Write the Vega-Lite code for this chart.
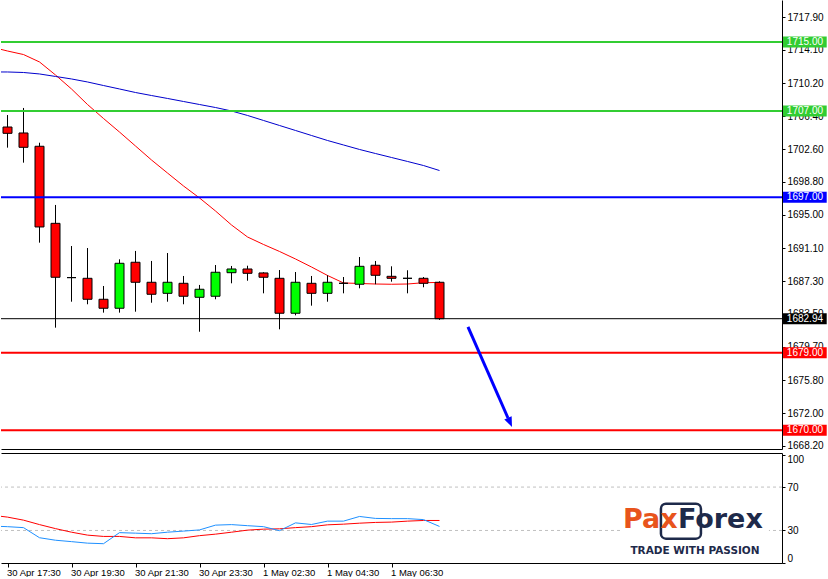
{
  "$schema": "https://vega.github.io/schema/vega-lite/v6.json",
  "padding": 0,
  "background": "white",
  "spacing": 2,
  "config": {
    "view": {"stroke": null},
    "axis": {"labelFont": "Liberation Sans", "labelFontSize": 10, "labelColor": "black", "domainColor": "black", "tickColor": "black", "grid": false, "labelOverlap": false}
  },
  "datasets": {
    "candles": [
      {"i": 0, "o": 1705.15, "h": 1706.54, "l": 1702.76, "c": 1704.42},
      {"i": 1, "o": 1704.46, "h": 1707.36, "l": 1701.02, "c": 1702.80},
      {"i": 2, "o": 1702.92, "h": 1703.33, "l": 1691.75, "c": 1693.57},
      {"i": 3, "o": 1693.99, "h": 1696.12, "l": 1681.90, "c": 1687.74},
      {"i": 4, "o": 1687.70, "h": 1691.36, "l": 1684.91, "c": 1687.70},
      {"i": 5, "o": 1687.62, "h": 1691.13, "l": 1684.61, "c": 1685.19},
      {"i": 6, "o": 1685.19, "h": 1686.73, "l": 1683.64, "c": 1684.15},
      {"i": 7, "o": 1684.15, "h": 1689.82, "l": 1683.64, "c": 1689.36},
      {"i": 8, "o": 1689.48, "h": 1690.79, "l": 1683.75, "c": 1687.16},
      {"i": 9, "o": 1687.16, "h": 1689.63, "l": 1684.79, "c": 1685.77},
      {"i": 10, "o": 1685.88, "h": 1690.55, "l": 1684.91, "c": 1687.16},
      {"i": 11, "o": 1687.04, "h": 1687.89, "l": 1684.61, "c": 1685.54},
      {"i": 12, "o": 1685.42, "h": 1686.85, "l": 1681.43, "c": 1686.35},
      {"i": 13, "o": 1685.54, "h": 1689.16, "l": 1685.19, "c": 1688.32},
      {"i": 14, "o": 1688.27, "h": 1689.05, "l": 1687.04, "c": 1688.70},
      {"i": 15, "o": 1688.70, "h": 1689.08, "l": 1687.34, "c": 1688.20},
      {"i": 16, "o": 1688.24, "h": 1688.32, "l": 1685.88, "c": 1687.74},
      {"i": 17, "o": 1687.62, "h": 1688.58, "l": 1681.71, "c": 1683.57},
      {"i": 18, "o": 1683.57, "h": 1688.35, "l": 1683.33, "c": 1687.16},
      {"i": 19, "o": 1687.04, "h": 1687.89, "l": 1684.45, "c": 1685.88},
      {"i": 20, "o": 1685.88, "h": 1687.97, "l": 1684.91, "c": 1687.16},
      {"i": 21, "o": 1687.04, "h": 1687.77, "l": 1685.88, "c": 1687.04},
      {"i": 22, "o": 1686.93, "h": 1690.09, "l": 1686.46, "c": 1689.01},
      {"i": 23, "o": 1689.13, "h": 1689.63, "l": 1686.93, "c": 1687.97},
      {"i": 24, "o": 1687.85, "h": 1689.01, "l": 1687.23, "c": 1687.62},
      {"i": 25, "o": 1687.62, "h": 1688.55, "l": 1685.88, "c": 1687.62},
      {"i": 26, "o": 1687.62, "h": 1687.77, "l": 1686.58, "c": 1687.04},
      {"i": 27, "o": 1687.16, "h": 1687.27, "l": 1682.80, "c": 1682.94}
    ],
    "ma": [
      {"i": -1, "fast": 1714.42, "slow": 1711.53},
      {"i": 0, "fast": 1713.96, "slow": 1711.53},
      {"i": 1, "fast": 1713.55, "slow": 1711.47},
      {"i": 2, "fast": 1712.69, "slow": 1711.30},
      {"i": 3, "fast": 1711.18, "slow": 1711.01},
      {"i": 4, "fast": 1709.56, "slow": 1710.72},
      {"i": 5, "fast": 1707.76, "slow": 1710.37},
      {"i": 6, "fast": 1706.14, "slow": 1709.96},
      {"i": 7, "fast": 1704.57, "slow": 1709.56},
      {"i": 8, "fast": 1702.95, "slow": 1709.15},
      {"i": 9, "fast": 1701.33, "slow": 1708.80},
      {"i": 10, "fast": 1699.82, "slow": 1708.46},
      {"i": 11, "fast": 1698.32, "slow": 1708.11},
      {"i": 12, "fast": 1696.93, "slow": 1707.76},
      {"i": 13, "fast": 1695.42, "slow": 1707.41},
      {"i": 14, "fast": 1693.80, "slow": 1707.01},
      {"i": 15, "fast": 1692.41, "slow": 1706.49},
      {"i": 16, "fast": 1691.54, "slow": 1705.91},
      {"i": 17, "fast": 1690.73, "slow": 1705.33},
      {"i": 18, "fast": 1689.86, "slow": 1704.75},
      {"i": 19, "fast": 1688.93, "slow": 1704.17},
      {"i": 20, "fast": 1687.95, "slow": 1703.59},
      {"i": 21, "fast": 1687.08, "slow": 1703.07},
      {"i": 22, "fast": 1687.02, "slow": 1702.55},
      {"i": 23, "fast": 1686.96, "slow": 1702.08},
      {"i": 24, "fast": 1686.93, "slow": 1701.62},
      {"i": 25, "fast": 1686.96, "slow": 1701.16},
      {"i": 26, "fast": 1687.11, "slow": 1700.69},
      {"i": 27, "fast": 1687.14, "slow": 1700.11}
    ],
    "levels": [
      {"price": 1715.00, "kind": "resistance"},
      {"price": 1707.00, "kind": "resistance"},
      {"price": 1697.00, "kind": "pivot"},
      {"price": 1682.94, "kind": "current"},
      {"price": 1679.00, "kind": "support"},
      {"price": 1670.00, "kind": "support"}
    ],
    "arrow": [
      {"i": 28.78, "p": 1681.98},
      {"i": 31.28, "p": 1671.43}
    ],
    "arrowhead": [
      {"i": 31.53, "p": 1670.39}
    ],
    "osc": [
      {"i": -1, "blue": 34.0, "red": 44.1},
      {"i": 0, "blue": 33.5, "red": 42.3},
      {"i": 1, "blue": 32.6, "red": 39.5},
      {"i": 2, "blue": 23.3, "red": 35.4},
      {"i": 3, "blue": 21.0, "red": 31.7},
      {"i": 4, "blue": 19.7, "red": 28.4},
      {"i": 5, "blue": 18.3, "red": 25.7},
      {"i": 6, "blue": 17.8, "red": 24.5},
      {"i": 7, "blue": 28.0, "red": 24.5},
      {"i": 8, "blue": 27.5, "red": 23.2},
      {"i": 9, "blue": 27.0, "red": 23.2},
      {"i": 10, "blue": 28.4, "red": 22.4},
      {"i": 11, "blue": 29.4, "red": 23.2},
      {"i": 12, "blue": 30.5, "red": 25.2},
      {"i": 13, "blue": 34.9, "red": 26.6},
      {"i": 14, "blue": 35.4, "red": 28.4},
      {"i": 15, "blue": 34.4, "red": 30.3},
      {"i": 16, "blue": 33.5, "red": 31.2},
      {"i": 17, "blue": 29.8, "red": 31.5},
      {"i": 18, "blue": 37.0, "red": 32.6},
      {"i": 19, "blue": 35.5, "red": 33.5},
      {"i": 20, "blue": 38.6, "red": 35.2},
      {"i": 21, "blue": 38.6, "red": 35.8},
      {"i": 22, "blue": 42.9, "red": 36.7},
      {"i": 23, "blue": 41.1, "red": 37.4},
      {"i": 24, "blue": 40.9, "red": 37.7},
      {"i": 25, "blue": 40.9, "red": 38.6},
      {"i": 26, "blue": 40.0, "red": 39.2},
      {"i": 27, "blue": 33.7, "red": 39.2}
    ],
    "osclevels": [{"v": 70}, {"v": 30}],
    "one": [{"n": 1}]
  },
  "vconcat": [
    {
      "width": 781,
      "height": 449,
      "resolve": {"axis": {"x": "independent", "y": "independent"}},
      "layer": [
        {
          "data": {"name": "ma"},
          "mark": {"type": "line", "color": "#FF0000", "strokeWidth": 1, "clip": true},
          "encoding": {
            "x": {"field": "i", "type": "quantitative", "scale": {"domain": [-0.40625, 48.40625], "nice": false, "zero": false, "padding": 0}, "axis": {"orient": "bottom", "labels": false, "ticks": false, "domain": true, "title": null}},
            "y": {"field": "fast", "type": "quantitative", "scale": {"domain": [1667.84, 1719.87], "nice": false, "zero": false, "padding": 0}, "axis": {"orient": "right", "values": [1717.9, 1714.1, 1710.2, 1706.4, 1702.6, 1698.8, 1695.0, 1691.1, 1687.3, 1683.5, 1679.7, 1675.8, 1672.0, 1668.2], "format": ".2f", "tickSize": 3, "labelPadding": 2, "title": null}}
          }
        },
        {
          "data": {"name": "ma"},
          "mark": {"type": "line", "color": "#0000CD", "strokeWidth": 1, "clip": true},
          "encoding": {
            "x": {"field": "i", "type": "quantitative", "axis": null},
            "y": {"field": "slow", "type": "quantitative", "axis": null}
          }
        },
        {
          "data": {"name": "candles"},
          "mark": {"type": "rule", "color": "black", "strokeWidth": 1},
          "encoding": {
            "x": {"field": "i", "type": "quantitative", "axis": null},
            "y": {"field": "l", "type": "quantitative", "axis": null},
            "y2": {"field": "h"}
          }
        },
        {
          "data": {"name": "candles"},
          "mark": {"type": "bar", "size": 9, "stroke": "black", "strokeWidth": 1, "orient": "vertical"},
          "encoding": {
            "x": {"field": "i", "type": "quantitative", "axis": null},
            "y": {"field": "o", "type": "quantitative", "axis": null},
            "y2": {"field": "c"},
            "fill": {"condition": {"test": "datum.c > datum.o", "value": "#00FF00"}, "value": "#FF0000"}
          }
        },
        {
          "data": {"name": "levels"},
          "mark": {"type": "rule"},
          "encoding": {
            "y": {"field": "price", "type": "quantitative", "axis": null},
            "color": {"field": "kind", "type": "nominal", "scale": {"domain": ["resistance", "pivot", "current", "support"], "range": ["#32CD32", "#0000FF", "#000000", "#FF0000"]}, "legend": null},
            "strokeWidth": {"condition": {"test": "datum.kind === 'current'", "value": 1}, "value": 2}
          }
        },
        {
          "data": {"name": "arrow"},
          "mark": {"type": "line", "color": "#0000FF", "strokeWidth": 3, "strokeCap": "butt"},
          "encoding": {
            "x": {"field": "i", "type": "quantitative", "axis": null},
            "y": {"field": "p", "type": "quantitative", "axis": null}
          }
        },
        {
          "data": {"name": "arrowhead"},
          "mark": {"type": "point", "shape": "M0,0 L-0.8,-2 L0.8,-2 Z", "size": 100, "filled": true, "color": "#0000FF", "opacity": 1, "angle": -23.5},
          "encoding": {
            "x": {"field": "i", "type": "quantitative", "axis": null},
            "y": {"field": "p", "type": "quantitative", "axis": null}
          }
        },
        {
          "data": {"name": "levels"},
          "mark": {"type": "bar", "orient": "horizontal", "size": 11, "clip": false},
          "encoding": {
            "y": {"field": "price", "type": "quantitative", "axis": null},
            "x": {"datum": 48.47, "type": "quantitative", "axis": null},
            "x2": {"datum": 51.2},
            "color": {"field": "kind", "type": "nominal", "legend": null}
          }
        },
        {
          "data": {"name": "levels"},
          "mark": {"type": "text", "font": "Liberation Sans", "fontSize": 10, "color": "white", "align": "center", "baseline": "middle", "clip": false},
          "encoding": {
            "y": {"field": "price", "type": "quantitative", "axis": null},
            "x": {"datum": 49.84, "type": "quantitative", "axis": null},
            "text": {"field": "price", "type": "quantitative", "format": ".2f"}
          }
        }
      ]
    },
    {
      "width": 781,
      "height": 110,
      "resolve": {"axis": {"x": "independent", "y": "independent"}},
      "layer": [
        {
          "data": {"name": "osclevels"},
          "mark": {"type": "rule", "color": "#C0C0C0", "strokeWidth": 1, "strokeDash": [3, 3]},
          "encoding": {
            "y": {"field": "v", "type": "quantitative", "scale": {"domain": [0, 101.4], "nice": false, "zero": false, "padding": 0}, "axis": {"orient": "right", "values": [100, 70, 30, 0], "format": "d", "tickSize": 3, "labelPadding": 2, "title": null, "labelOffset": {"condition": {"test": "datum.value === 100", "value": 5}, "value": 0}, "labelBaseline": {"condition": {"test": "datum.value === 0", "value": "bottom"}, "value": "middle"}}}
          }
        },
        {
          "data": {"name": "osc"},
          "mark": {"type": "line", "color": "#FF0000", "strokeWidth": 1, "clip": true},
          "encoding": {
            "x": {"field": "i", "type": "quantitative", "scale": {"domain": [-0.40625, 48.40625], "nice": false, "zero": false, "padding": 0}, "axis": {"orient": "top", "labels": false, "ticks": false, "domain": true, "title": null}},
            "y": {"field": "red", "type": "quantitative", "axis": null}
          }
        },
        {
          "data": {"name": "osc"},
          "mark": {"type": "line", "color": "#1E90FF", "strokeWidth": 1, "clip": true},
          "encoding": {
            "x": {"field": "i", "type": "quantitative", "axis": {"orient": "bottom", "title": null, "values": [0, 4, 8, 12, 16, 20, 24], "labelExpr": "['30 Apr 17:30', '30 Apr 19:30', '30 Apr 21:30', '30 Apr 23:30', '1 May 02:30', '1 May 04:30', '1 May 06:30'][round(datum.value / 4)]", "labelAlign": "left", "labelBaseline": "top", "labelFontSize": 9.5, "labelOffset": -1, "tickSize": 4, "labelPadding": 0, "labelBound": false, "labelFlush": false}},
            "y": {"field": "blue", "type": "quantitative", "axis": null}
          }
        },
        {
          "data": {"name": "one"},
          "mark": {"type": "rect", "color": "white", "clip": false},
          "encoding": {
            "x": {"datum": 38.41, "type": "quantitative", "axis": null},
            "x2": {"datum": 47.59},
            "y": {"datum": 56.5, "type": "quantitative", "axis": null},
            "y2": {"datum": 4.0}
          }
        },
        {
          "data": {"name": "one"},
          "mark": {"type": "rect", "filled": false, "color": "#1E2A4A", "strokeWidth": 2.5, "cornerRadius": 5},
          "encoding": {
            "x": {"datum": 40.84, "type": "quantitative", "axis": null},
            "x2": {"datum": 43.34},
            "y": {"datum": 54.6, "type": "quantitative", "axis": null},
            "y2": {"datum": 22.4}
          }
        },
        {
          "data": {"name": "one"},
          "mark": {"type": "text", "text": "Pax", "font": "DejaVu Sans", "fontWeight": "bold", "fontSize": 27, "color": "#E8541C", "align": "left", "baseline": "alphabetic"},
          "encoding": {
            "x": {"datum": 38.47, "type": "quantitative", "axis": null},
            "y": {"datum": 32.5, "type": "quantitative", "axis": null}
          }
        },
        {
          "data": {"name": "one"},
          "mark": {"type": "text", "text": "Forex", "font": "DejaVu Sans", "fontWeight": "bold", "fontSize": 27, "color": "#1E2A4A", "align": "left", "baseline": "alphabetic"},
          "encoding": {
            "x": {"datum": 41.9, "type": "quantitative", "axis": null},
            "y": {"datum": 32.5, "type": "quantitative", "axis": null}
          }
        },
        {
          "data": {"name": "one"},
          "mark": {"type": "text", "text": "TRADE WITH PASSION", "font": "DejaVu Sans", "fontWeight": "bold", "fontSize": 10.5, "color": "#1E2A4A", "align": "center", "baseline": "alphabetic"},
          "encoding": {
            "x": {"datum": 42.97, "type": "quantitative", "axis": null},
            "y": {"datum": 8.3, "type": "quantitative", "axis": null}
          }
        }
      ]
    }
  ]
}
